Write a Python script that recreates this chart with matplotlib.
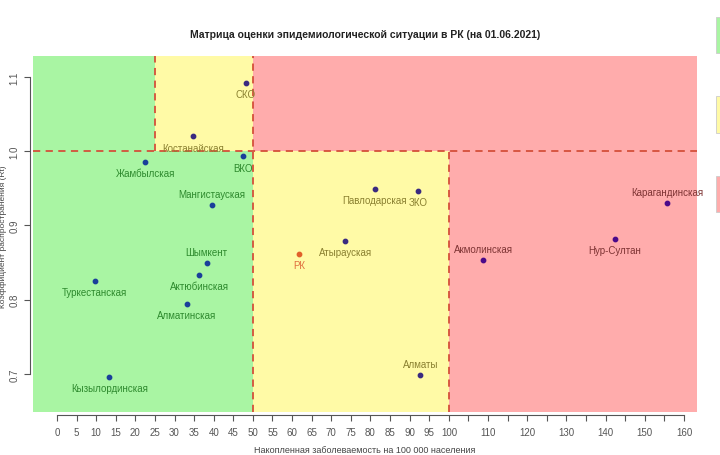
import matplotlib.pyplot as plt
from matplotlib.patches import Rectangle
import numpy as np

plt.rcParams['font.family'] = ['Liberation Sans Narrow', 'Liberation Sans', 'DejaVu Sans']

# regions: name, x (incidence per 100k), y (Rt)
names = ['СКО', 'Костанайская', 'Жамбылская', 'ВКО', 'Мангистауская',
         'Шымкент', 'Актюбинская', 'Туркестанская', 'Алматинская', 'Кызылординская',
         'РК', 'Атырауская', 'Павлодарская', 'ЗКО', 'Алматы',
         'Акмолинская', 'Нур-Султан', 'Карагандинская']
xval = [48.2, 34.8, 22.6, 47.5, 39.6,
        38.2, 36.3, 9.6, 33.1, 13.4,
        61.7, 73.6, 81.1, 92.2, 92.7,
        108.8, 142.3, 155.6]
yval = [1.092, 1.020, 0.986, 0.993, 0.927,
        0.850, 0.834, 0.825, 0.794, 0.696,
        0.862, 0.879, 0.949, 0.947, 0.699,
        0.853, 0.882, 0.930]
# label below (1) or above (3), R style
pos = [1, 1, 1, 1, 3,
       3, 1, 1, 1, 1,
       1, 1, 1, 1, 3,
       3, 1, 3]

green = '#a9f5a3'
yellow = '#fffaa6'
red = '#ffacac'
dash_col = '#d4503a'

def zone(x, y):
    if y >= 1.0:
        return 'g' if x < 25 else ('y' if x < 50 else 'r')
    return 'g' if x < 50 else ('y' if x < 100 else 'r')

pt_col = {'g': '#1a3f9a', 'y': '#3a2a80', 'r': '#4a0a8a'}
txt_col = {'g': '#2e8a2e', 'y': '#8a8030', 'r': '#7e3434'}

fig = plt.figure(figsize=(7.2, 4.56), dpi=100)
ax = fig.add_axes([33/720, 1-413/456, 664/720, 356/456])
xmin, xmax = -6.1, 163.3
ymin, ymax = 0.6488, 1.1283
ax.set_xlim(xmin, xmax)
ax.set_ylim(ymin, ymax)

# background zones
ax.add_patch(Rectangle((xmin, 1.0), 25-xmin, ymax-1.0, color=green, lw=0, zorder=0))
ax.add_patch(Rectangle((25, 1.0), 25, ymax-1.0, color=yellow, lw=0, zorder=0))
ax.add_patch(Rectangle((50, 1.0), xmax-50, ymax-1.0, color=red, lw=0, zorder=0))
ax.add_patch(Rectangle((xmin, ymin), 50-xmin, 1.0-ymin, color=green, lw=0, zorder=0))
ax.add_patch(Rectangle((50, ymin), 50, 1.0-ymin, color=yellow, lw=0, zorder=0))
ax.add_patch(Rectangle((100, ymin), xmax-100, 1.0-ymin, color=red, lw=0, zorder=0))

ls = (0, (4, 3))
ax.axhline(1.0, color=dash_col, ls=ls, lw=1.3, zorder=1)
ax.axvline(50, color=dash_col, ls=ls, lw=1.3, zorder=1)
ax.plot([25, 25], [1.0, ymax], color=dash_col, ls=ls, lw=1.3, zorder=1)
ax.plot([100, 100], [ymin, 1.0], color=dash_col, ls=ls, lw=1.3, zorder=1)

for n, x, y, p in zip(names, xval, yval, pos):
    z = zone(x, y)
    if n == 'РК':
        pc, tc = '#e0602a', '#e07040'
    else:
        pc, tc = pt_col[z], txt_col[z]
    ax.scatter(x, y, s=10, color=pc, zorder=3)
    off = -8 if p == 1 else 8
    ax.annotate(n, (x, y), textcoords='offset points', xytext=(0, off),
                ha='center', va='center', fontsize=7, color=tc, zorder=4)

# axes in R style
for s in ['top', 'right']:
    ax.spines[s].set_visible(False)
ax.spines['left'].set_position(('outward', 2))
ax.spines['bottom'].set_position(('outward', 2))
ax.spines['left'].set_bounds(0.7, 1.1)
ax.spines['bottom'].set_bounds(0, 160)
ax.spines['left'].set_color('#555555')
ax.spines['bottom'].set_color('#555555')
xt = np.arange(0, 165, 5)
ax.set_xticks(xt)
ax.set_xticklabels([str(v) if (v <= 100 or v % 10 == 0) else '' for v in xt])
ax.set_yticks([0.7, 0.8, 0.9, 1.0, 1.1])
ax.set_yticklabels(['0.7', '0.8', '0.9', '1.0', '1.1'], rotation=90, va='center')
ax.tick_params(axis='both', labelsize=7, colors='#555555', length=4, width=0.8)
ax.tick_params(axis='x', pad=5)

ax.set_title('Матрица оценки эпидемиологической ситуации в РК (на 01.06.2021)',
             fontsize=7.5, fontweight='bold', color='#222222', pad=14)

# axis labels squeezed against the figure edges
fig.text(4/720, 0.48, 'Коэффициент распространения (Rt)', rotation=90,
         ha='center', va='center', fontsize=6, color='#444444')
fig.text(0.507, 1-455/456, 'Накопленная заболеваемость на 100 000 населения',
         ha='center', va='bottom', fontsize=6.5, color='#444444')

# legend boxes at the right edge
for col, y0, y1 in [('#a9f5a3', 18, 54), ('#fffaa6', 97, 134), ('#ffacac', 177, 213)]:
    fig.patches.append(Rectangle((716/720, 1-y1/456), 10/720, (y1-y0)/456,
                                 transform=fig.transFigure, facecolor=col,
                                 edgecolor='#cccccc', lw=0.6))

fig.savefig('out.png', dpi=100)
